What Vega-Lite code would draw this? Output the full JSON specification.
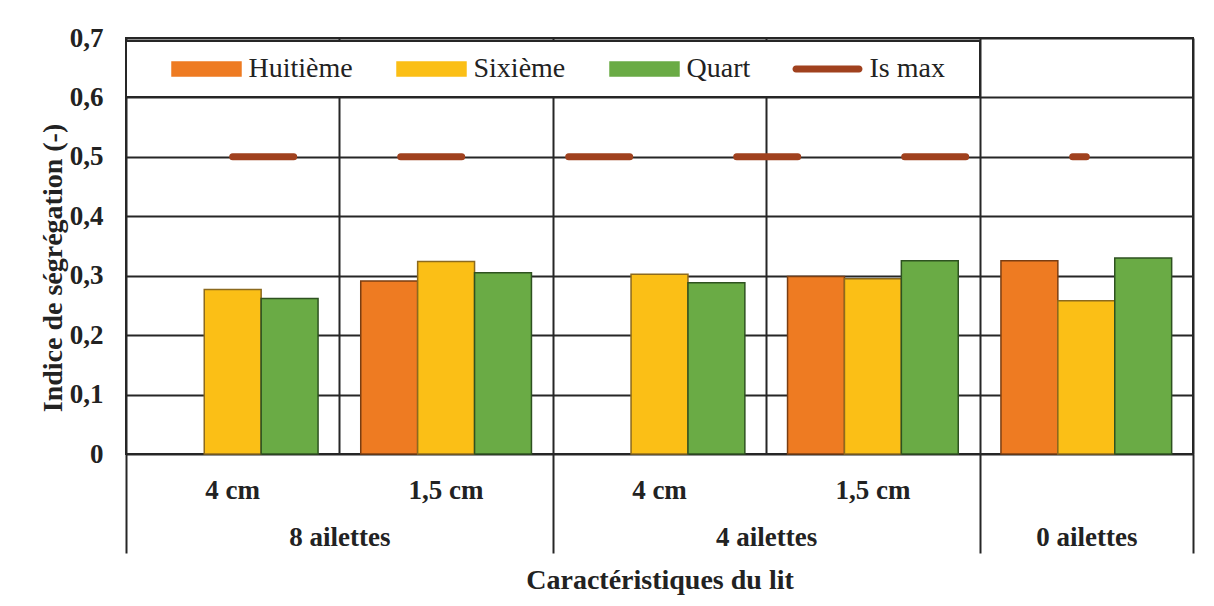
{
  "$schema": "https://vega.github.io/schema/vega-lite/v6.json",
  "width": 1067,
  "height": 416,
  "autosize": {"type": "none"},
  "padding": {"left": 126, "top": 38, "right": 21, "bottom": 152},
  "background": "white",
  "config": {
    "font": "Liberation Serif",
    "view": {"stroke": "#262626", "strokeWidth": 2}
  },
  "data": {
    "values": [
      {"groupe": "8 ailettes / 4 cm", "serie": "Sixième", "indice": 0.277},
      {"groupe": "8 ailettes / 4 cm", "serie": "Quart", "indice": 0.2615},
      {"groupe": "8 ailettes / 4 cm", "serie": "Is max", "indice": 0.5},
      {"groupe": "8 ailettes / 1,5 cm", "serie": "Huitième", "indice": 0.291},
      {"groupe": "8 ailettes / 1,5 cm", "serie": "Sixième", "indice": 0.324},
      {"groupe": "8 ailettes / 1,5 cm", "serie": "Quart", "indice": 0.305},
      {"groupe": "8 ailettes / 1,5 cm", "serie": "Is max", "indice": 0.5},
      {"groupe": "4 ailettes / 4 cm", "serie": "Sixième", "indice": 0.3025},
      {"groupe": "4 ailettes / 4 cm", "serie": "Quart", "indice": 0.288},
      {"groupe": "4 ailettes / 4 cm", "serie": "Is max", "indice": 0.5},
      {"groupe": "4 ailettes / 1,5 cm", "serie": "Huitième", "indice": 0.2985},
      {"groupe": "4 ailettes / 1,5 cm", "serie": "Sixième", "indice": 0.295},
      {"groupe": "4 ailettes / 1,5 cm", "serie": "Quart", "indice": 0.325},
      {"groupe": "4 ailettes / 1,5 cm", "serie": "Is max", "indice": 0.5},
      {"groupe": "0 ailettes", "serie": "Huitième", "indice": 0.325},
      {"groupe": "0 ailettes", "serie": "Sixième", "indice": 0.258},
      {"groupe": "0 ailettes", "serie": "Quart", "indice": 0.33},
      {"groupe": "0 ailettes", "serie": "Is max", "indice": 0.5}
    ]
  },
  "layer": [
    {
      "layer": [
        {
          "transform": [{"filter": "datum.serie !== 'Is max'"}],
          "mark": {"type": "bar", "strokeWidth": 1.5},
          "encoding": {
            "x": {
              "field": "groupe", "type": "nominal", "sort": null,
              "scale": {"paddingInner": 0.2, "paddingOuter": 0.1},
              "axis": {
                "orient": "bottom", "title": null, "ticks": false, "domain": false, "grid": false,
                "labelAngle": 0, "labelFontSize": 27, "labelFontWeight": "bold", "labelColor": "#222",
                "labelBaseline": "alphabetic", "labelPadding": 44, "labelOverlap": false, "labelLimit": 300,
                "labelExpr": "indexof(datum.label, ' / ') >= 0 ? split(datum.label, ' / ')[1] : ''"
              }
            },
            "xOffset": {"field": "serie", "type": "nominal", "scale": {"domain": ["Huitième", "Sixième", "Quart"]}},
            "y": {
              "field": "indice", "type": "quantitative",
              "scale": {"domain": [0, 0.7], "nice": false},
              "axis": {
                "title": "Indice de ségrégation (-)", "values": [0, 0.1, 0.2, 0.3, 0.4, 0.5, 0.6, 0.7],
                "grid": true, "gridColor": "#262626", "gridWidth": 2, "domain": false, "ticks": false,
                "labelFontSize": 27, "labelFontWeight": "bold", "labelColor": "#222", "labelPadding": 23,
                "labelExpr": "datum.value === 0 ? '0' : replace(format(datum.value, '.1f'), '.', ',')",
                "titleFontSize": 28, "titleFontWeight": "bold", "titleColor": "#222",
                "titleBaseline": "alphabetic", "titleX": -65, "titleY": 229.5, "titleAngle": -90
              }
            },
            "color": {
              "field": "serie", "type": "nominal",
              "scale": {"domain": ["Huitième", "Sixième", "Quart", "Is max"], "range": ["#EE7B22", "#FBBF16", "#6AAB45", "#A0411E"]},
              "legend": {
                "orient": "none", "legendX": 0, "legendY": 3, "direction": "horizontal", "columns": 4,
                "title": "\u00a0", "titleOrient": "left", "titleFontSize": 28, "titlePadding": 32,
                "padding": 14, "fillColor": "white", "strokeColor": "#262626",
                "labelFontSize": 28, "labelColor": "#222", "labelOffset": 28, "labelLimit": 400,
                "symbolSize": 784, "symbolOffset": 20.5, "columnPadding": 41,
                "labelExpr": "datum.value === 'Is max' ? datum.label + '\u2800' : datum.label",
                "encode": {
                  "legend": {"update": {"strokeWidth": {"value": 2}}},
                  "symbols": {
                    "update": {
                      "shape": {"signal": "datum.value === 'Is max' ? 'M-2.25,-0.25H2.25A0.25,0.25 0 0 1 2.25,0.25H-2.25A0.25,0.25 0 0 1 -2.25,-0.25Z' : 'M-2.464,-0.5H2.464V0.5H-2.464Z'"},
                      "fill": {"signal": "datum.value === 'Huitième' ? '#EE7B22' : datum.value === 'Sixième' ? '#FBBF16' : datum.value === 'Quart' ? '#6AAB45' : '#A0411E'"},
                      "stroke": {"signal": "datum.value === 'Huitième' ? '#7A3E12' : datum.value === 'Sixième' ? '#8C6A1E' : datum.value === 'Quart' ? '#2E5220' : '#A0411E'"},
                      "strokeWidth": {"signal": "datum.value === 'Is max' ? 0 : 1.5"},
                      "opacity": {"value": 1}
                    }
                  }
                }
              }
            },
            "stroke": {
              "field": "serie", "type": "nominal",
              "scale": {"domain": ["Huitième", "Sixième", "Quart"], "range": ["#7A3E12", "#8C6A1E", "#2E5220"]},
              "legend": null
            }
          }
        },
        {
          "transform": [{"filter": "datum.serie === 'Is max'"}],
          "mark": {"type": "line", "strokeWidth": 7, "strokeCap": "round", "strokeDash": [61, 107]},
          "encoding": {
            "x": {"field": "groupe", "type": "nominal", "sort": null},
            "y": {
              "field": "indice", "type": "quantitative",
              "scale": {"domain": [0, 0.7], "nice": false},
              "axis": {
                "title": "Indice de ségrégation (-)", "values": [0, 0.1, 0.2, 0.3, 0.4, 0.5, 0.6, 0.7],
                "grid": true, "gridColor": "#262626", "gridWidth": 2, "domain": false, "ticks": false,
                "labelFontSize": 27, "labelFontWeight": "bold", "labelColor": "#222", "labelPadding": 23,
                "labelExpr": "datum.value === 0 ? '0' : replace(format(datum.value, '.1f'), '.', ',')",
                "titleFontSize": 28, "titleFontWeight": "bold", "titleColor": "#222",
                "titleBaseline": "alphabetic", "titleX": -65, "titleY": 229.5, "titleAngle": -90
              }
            },
            "color": {"field": "serie", "type": "nominal"}
          }
        }
      ]
    },
    {
      "mark": {"type": "rule", "strokeOpacity": 0},
      "encoding": {
        "x": {
          "datum": 0, "type": "quantitative",
          "scale": {"domain": [0, 5], "nice": false, "zero": false},
          "axis": {
            "orient": "bottom", "title": "Caractéristiques du lit",
            "values": [0, 1, 2, 3, 4, 4.5, 5],
            "domain": false,
            "grid": true, "gridColor": "#262626", "gridWidth": 2,
            "gridOpacity": {"condition": {"test": "datum.value % 1 === 0", "value": 1}, "value": 0},
            "ticks": true, "tickColor": "#262626", "tickWidth": 2,
            "tickSize": {"condition": {"test": "datum.value === 0 || datum.value === 2 || datum.value === 4 || datum.value === 5", "value": 99}, "value": 0},
            "labelExpr": "datum.value === 1 ? '8 ailettes' : datum.value === 3 ? '4 ailettes' : datum.value === 4.5 ? '0 ailettes' : ''",
            "labelFontSize": 27, "labelFontWeight": "bold", "labelColor": "#222",
            "labelBaseline": "alphabetic", "labelPadding": 91, "labelOverlap": false, "labelFlush": false,
            "titleFontSize": 28, "titleFontWeight": "bold", "titleColor": "#222",
            "titleBaseline": "alphabetic", "titleY": 134
          }
        }
      }
    }
  ],
  "resolve": {"scale": {"x": "independent"}, "axis": {"x": "independent"}}
}
